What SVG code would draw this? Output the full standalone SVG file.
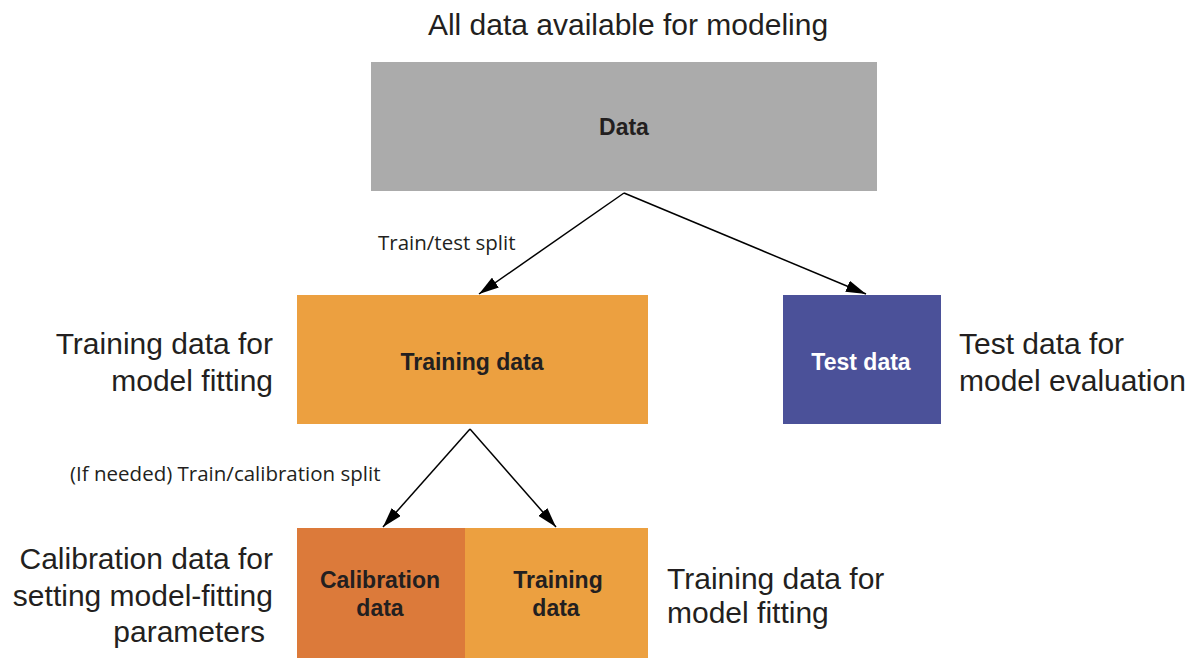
<svg xmlns="http://www.w3.org/2000/svg" width="1198" height="672" viewBox="0 0 1198 672">
<style>
.cap{font-family:"Liberation Sans",Arial,sans-serif;font-size:30px;fill:#231f20}
.lbl{font-family:"Liberation Sans",Arial,sans-serif;font-size:23px;font-weight:bold;fill:#231f20;text-anchor:middle}
.small{font-family:"Open Sans","Noto Sans",sans-serif;font-size:20.5px;fill:#231f20}
.edge{stroke:#000;stroke-width:1.5;fill:none;marker-end:url(#ah)}
</style>
<defs>
<marker id="ah" viewBox="0 0 20 12" refX="20" refY="6" markerWidth="20" markerHeight="12" markerUnits="userSpaceOnUse" orient="auto">
<path d="M0,0 L20,6 L0,12 z" fill="#000"/>
</marker>
</defs>
<rect width="1198" height="672" fill="#fff"/>
<text class="cap" x="628" y="35" text-anchor="middle">All data available for modeling</text>
<g id="data"><rect x="371" y="62" width="506" height="129" fill="#ababab"/><text class="lbl" x="624" y="135">Data</text></g>
<g id="training"><rect x="297" y="295" width="351" height="129" fill="#eca040"/><text class="lbl" x="472" y="370">Training data</text></g>
<g id="test"><rect x="783" y="295" width="158" height="129" fill="#4b5199"/><text class="lbl" x="861" y="370" style="fill:#fff">Test data</text></g>
<g id="calibration"><rect x="297" y="528" width="168" height="130" fill="#dc7a3a"/><text class="lbl" x="380" y="588">Calibration</text><text class="lbl" x="380" y="616">data</text></g>
<g id="training2"><rect x="465" y="528" width="183" height="130" fill="#eca040"/><text class="lbl" x="558" y="588">Training</text><text class="lbl" x="556" y="616">data</text></g>
<g id="connectors">
<line class="edge" x1="624" y1="193" x2="479" y2="294"/>
<line class="edge" x1="624" y1="193" x2="866" y2="294"/>
<line class="edge" x1="470" y1="429" x2="383" y2="527"/>
<line class="edge" x1="470" y1="429" x2="556" y2="527"/>
</g>
<text class="small" x="378" y="250">Train/test split</text>
<text class="small" x="70" y="481">(If needed) Train/calibration split</text>
<g class="cap" text-anchor="end">
<text x="273" y="354">Training data for</text>
<text x="273" y="391">model fitting</text>
<text x="273" y="569">Calibration data for</text>
<text x="273" y="606">setting model-fitting</text>
<text x="265" y="642">parameters</text>
</g>
<g class="cap">
<text x="959" y="354">Test data for</text>
<text x="959" y="391">model evaluation</text>
<text x="667" y="589">Training data for</text>
<text x="667" y="623">model fitting</text>
</g>
</svg>
